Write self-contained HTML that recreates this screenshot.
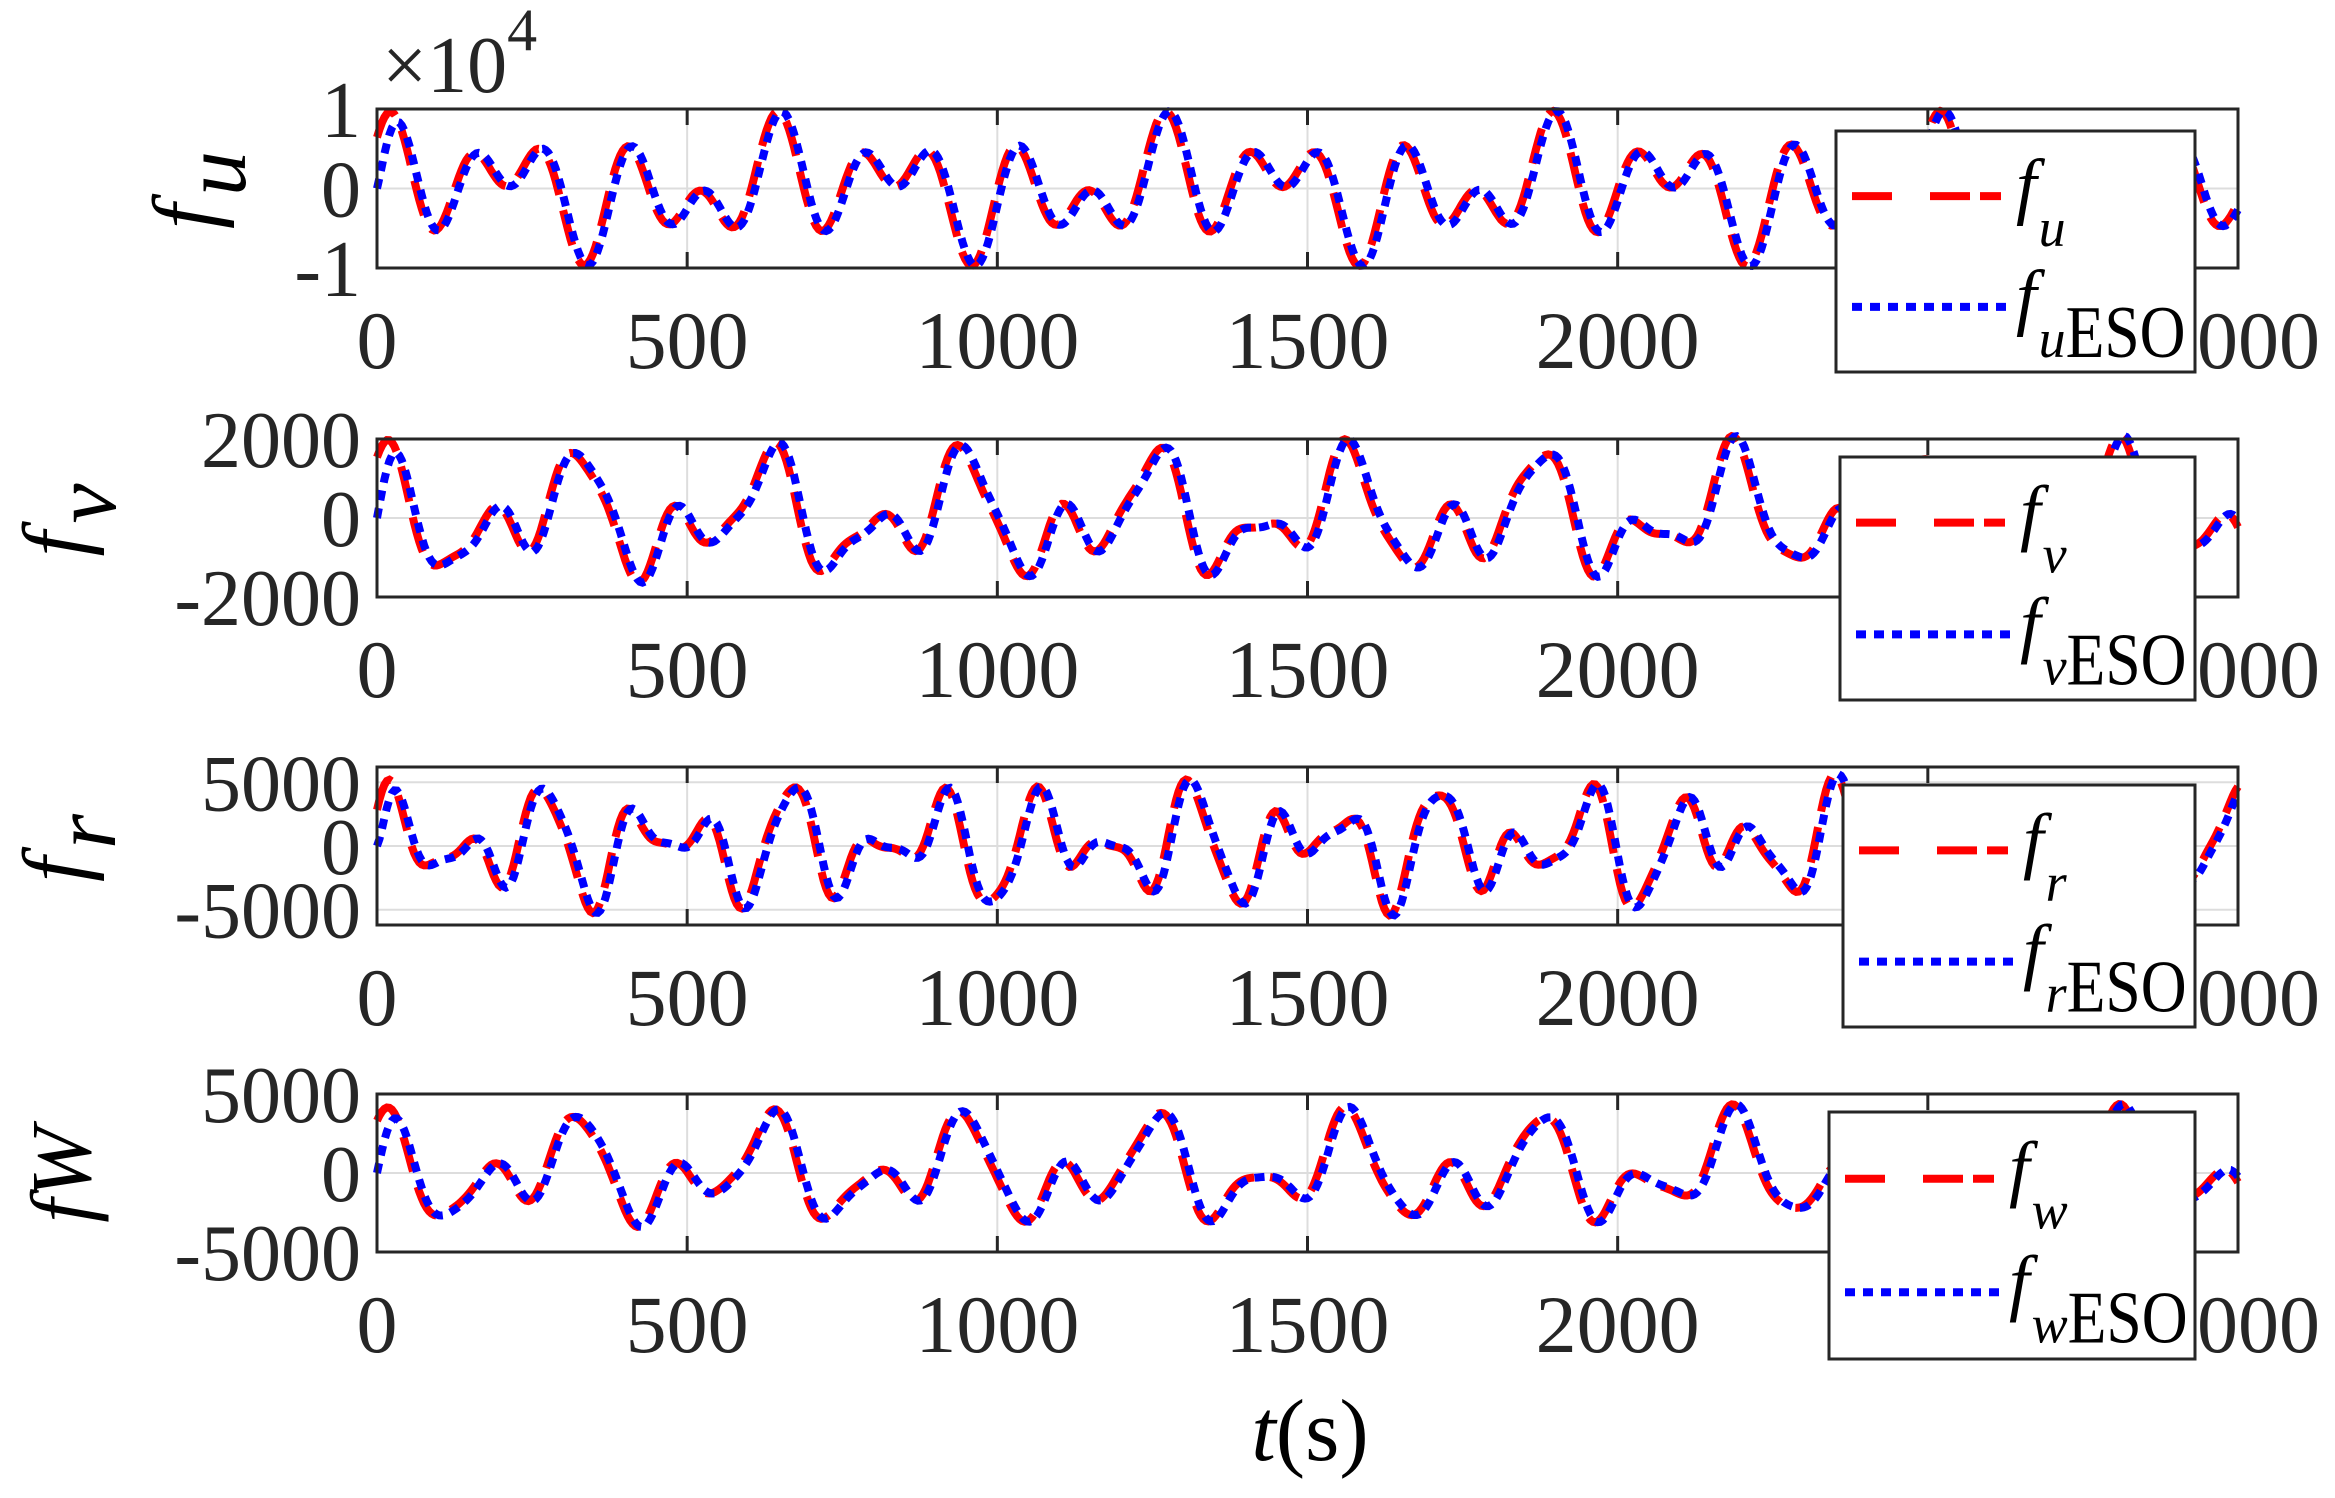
<!DOCTYPE html>
<html><head><meta charset="utf-8"><style>
body{margin:0;background:#fff;}
svg{display:block;}
text{font-family:"Liberation Serif","Times New Roman",serif;}
</style></head><body>
<svg id="s" width="2335" height="1498" viewBox="0 0 2335 1498" xmlns="http://www.w3.org/2000/svg" font-family="Liberation Serif, serif"></svg>
<script>
const S=document.getElementById('s');
let h='';
const L=377,R=2238;
const panels=[
 {t:109,b:268,max:1,ticks:[[1,'1'],[0,'0'],[-1,'-1']],f:t=>0.45*Math.sin(2*Math.PI*t/125+0.4)+0.4*Math.sin(2*Math.PI*t/208+1.2)+0.2*Math.sin(2*Math.PI*t/620+0.5),lab:'u',lx:215,ly:190},
 {t:439,b:597,max:2000,ticks:[[2000,'2000'],[0,'0'],[-2000,'-2000']],f:t=>900*Math.sin(2*Math.PI*t/155+0.8)+900*Math.sin(2*Math.PI*t/312+1.7)+300*Math.sin(2*Math.PI*t/90),lab:'v',lx:85,ly:520},
 {t:767,b:925,max:6200,ticks:[[5000,'5000'],[0,'0'],[-5000,'-5000']],f:t=>2800*Math.sin(2*Math.PI*t/130+0.9)+2200*Math.sin(2*Math.PI*t/210+0.3)+800*Math.sin(2*Math.PI*t/75),lab:'r',lx:85,ly:848},
 {t:1094,b:1252,max:5000,ticks:[[5000,'5000'],[0,'0'],[-5000,'-5000']],f:t=>2000*Math.sin(2*Math.PI*t/155+0.8)+1900*Math.sin(2*Math.PI*t/312+1.7)+500*Math.sin(2*Math.PI*t/90),lab:'w',lx:90,ly:1175,plain:true}
];
const legs=[[1836,131,2195,372],[1840,457,2195,700],[1843,785,2195,1027],[1829,1112,2195,1359]];
panels.forEach((p,i)=>{
 const c=(p.t+p.b)/2, sy=v=>c-v/p.max*(p.b-p.t)/2, sx=t=>L+t/3000*(R-L);
 for(let k=1;k<6;k++){const x=sx(k*500);h+=`<line x1="${x}" y1="${p.t}" x2="${x}" y2="${p.b}" stroke="#ddd" stroke-width="2"/>`;}
 p.ticks.forEach(tk=>{const y=sy(tk[0]);h+=`<line x1="${L}" y1="${y}" x2="${R}" y2="${y}" stroke="#ddd" stroke-width="2"/>`;
  h+=`<text x="${L-16}" y="${y+28}" font-size="80" text-anchor="end" fill="#262626">${tk[1]}</text>`;});
 for(let k=0;k<=6;k++){const x=sx(k*500);h+=`<line x1="${x}" y1="${p.t}" x2="${x}" y2="${p.t+16}" stroke="#262626" stroke-width="3"/><line x1="${x}" y1="${p.b}" x2="${x}" y2="${p.b-16}" stroke="#262626" stroke-width="3"/>`;
  h+=`<text x="${x}" y="${p.b+100}" font-size="82" text-anchor="middle" fill="#262626">${k*500}</text>`;}
 let d1='',d2='';
 for(let t=0;t<=3000;t+=4){const v=p.f(t);d1+=(t?'L':'M')+sx(t).toFixed(1)+','+sy(v).toFixed(1);
  const v2=p.f(t-6)*(1-Math.exp(-t/15));d2+=(t?'L':'M')+sx(t).toFixed(1)+','+sy(v2).toFixed(1);}
 h+=`<path d="${d1}" fill="none" stroke="#f00" stroke-width="8" stroke-dasharray="36,16"/>`;
 h+=`<path d="${d2}" fill="none" stroke="#00f" stroke-width="8" stroke-dasharray="10,8"/>`;
 h+=`<rect x="${L}" y="${p.t}" width="${R-L}" height="${p.b-p.t}" fill="none" stroke="#262626" stroke-width="3"/>`;
 if(p.plain) h+=`<text transform="translate(${p.lx},${p.ly}) rotate(-90)" font-size="86" text-anchor="middle" font-style="italic" fill="#000">fW</text>`;
 else h+=`<text transform="translate(${p.lx},${p.ly}) rotate(-90)" font-size="90" text-anchor="middle" font-style="italic" fill="#000">f<tspan dy="30" dx="8">${p.lab}</tspan></text>`;
 const g=legs[i];
 h+=`<rect x="${g[0]}" y="${g[1]}" width="${g[2]-g[0]}" height="${g[3]-g[1]}" fill="#fff" stroke="#262626" stroke-width="3"/>`;
 const y1=g[1]+(g[3]-g[1])*0.27, y2=g[1]+(g[3]-g[1])*0.73;
 h+=`<line x1="${g[0]+16}" y1="${y1}" x2="${g[0]+165}" y2="${y1}" stroke="#f00" stroke-width="8" stroke-dasharray="40,38,40,10"/>`;
 h+=`<line x1="${g[0]+16}" y1="${y2}" x2="${g[0]+170}" y2="${y2}" stroke="#00f" stroke-width="8" stroke-dasharray="10,8"/>`;
 h+=`<text x="${g[0]+180}" y="${y1+14}" font-size="74" font-style="italic">f<tspan font-size="54" dy="36" dx="2">${p.lab}</tspan></text>`;
 h+=`<text x="${g[0]+180}" y="${y2+14}" font-size="74" font-style="italic">f<tspan font-size="54" dy="36" dx="2">${p.lab}</tspan><tspan font-style="normal" textLength="120" lengthAdjust="spacingAndGlyphs">ESO</tspan></text>`;
});
h+=`<text x="382" y="92" font-size="80" fill="#262626">×10<tspan font-size="60" dy="-42">4</tspan></text>`;
h+=`<text x="1310" y="1460" font-size="88" text-anchor="middle" fill="#000"><tspan font-style="italic">t</tspan>(s)</text>`;
S.innerHTML=h;
</script>
</body></html>
